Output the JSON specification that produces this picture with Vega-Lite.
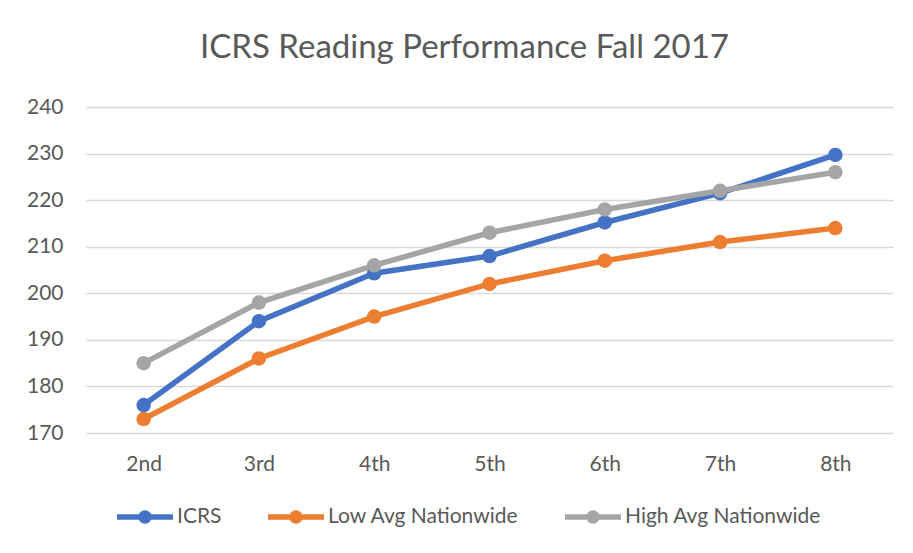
{
  "$schema": "https://vega.github.io/schema/vega-lite/v6.json",
  "width": 807,
  "height": 326,
  "autosize": {"type": "none"},
  "padding": {"left": 86, "top": 107, "right": 20, "bottom": 120},
  "background": "white",
  "title": {
    "text": "ICRS Reading Performance Fall 2017",
    "font": "Lato",
    "fontSize": 33,
    "fontWeight": "normal",
    "color": "#595959",
    "anchor": "middle",
    "frame": "group",
    "dx": -25,
    "offset": 5,
    "baseline": "alphabetic"
  },
  "data": {
    "values": [
      {"grade": "2nd", "series": "ICRS", "score": 176},
      {"grade": "3rd", "series": "ICRS", "score": 194},
      {"grade": "4th", "series": "ICRS", "score": 204.3},
      {"grade": "5th", "series": "ICRS", "score": 208},
      {"grade": "6th", "series": "ICRS", "score": 215.2},
      {"grade": "7th", "series": "ICRS", "score": 221.5},
      {"grade": "8th", "series": "ICRS", "score": 229.7},
      {"grade": "2nd", "series": "Low Avg Nationwide", "score": 173},
      {"grade": "3rd", "series": "Low Avg Nationwide", "score": 186},
      {"grade": "4th", "series": "Low Avg Nationwide", "score": 195},
      {"grade": "5th", "series": "Low Avg Nationwide", "score": 202},
      {"grade": "6th", "series": "Low Avg Nationwide", "score": 207},
      {"grade": "7th", "series": "Low Avg Nationwide", "score": 211},
      {"grade": "8th", "series": "Low Avg Nationwide", "score": 214},
      {"grade": "2nd", "series": "High Avg Nationwide", "score": 185},
      {"grade": "3rd", "series": "High Avg Nationwide", "score": 198},
      {"grade": "4th", "series": "High Avg Nationwide", "score": 206},
      {"grade": "5th", "series": "High Avg Nationwide", "score": 213},
      {"grade": "6th", "series": "High Avg Nationwide", "score": 218},
      {"grade": "7th", "series": "High Avg Nationwide", "score": 222},
      {"grade": "8th", "series": "High Avg Nationwide", "score": 226}
    ]
  },
  "mark": {
    "type": "line",
    "strokeWidth": 5.5,
    "point": {"filled": true, "size": 210, "opacity": 1}
  },
  "encoding": {
    "x": {
      "field": "grade",
      "type": "nominal",
      "sort": ["2nd", "3rd", "4th", "5th", "6th", "7th", "8th"],
      "scale": {"padding": 0.5},
      "axis": {
        "title": null,
        "labelAngle": 0,
        "labelFont": "Lato",
        "labelFontSize": 21,
        "labelColor": "#595959",
        "labelPadding": 20,
        "ticks": false,
        "domain": false,
        "grid": false
      }
    },
    "y": {
      "field": "score",
      "type": "quantitative",
      "scale": {"domain": [170, 240], "nice": false, "zero": false},
      "axis": {
        "title": null,
        "values": [170, 180, 190, 200, 210, 220, 230, 240],
        "labelFont": "Lato",
        "labelFontSize": 21,
        "labelColor": "#595959",
        "labelPadding": 23,
        "ticks": false,
        "domain": false,
        "grid": true,
        "gridColor": "#D9D9D9",
        "gridWidth": 1.3
      }
    },
    "color": {
      "field": "series",
      "type": "nominal",
      "scale": {
        "domain": ["ICRS", "Low Avg Nationwide", "High Avg Nationwide"],
        "range": ["#4472C4", "#ED7D31", "#A5A5A5"]
      },
      "legend": {
        "title": null,
        "orient": "none",
        "direction": "horizontal",
        "legendX": 31,
        "legendY": 382,
        "padding": 0,
        "labelFont": "Lato",
        "labelFontSize": 21,
        "labelColor": "#595959",
        "labelOffset": 4,
        "labelLimit": 400,
        "columnPadding": 46,
        "symbolType": "M-1,-0.1H1V0.1H-1Z M-0.24,0A0.24,0.24 0 1,1 0.24,0A0.24,0.24 0 1,1 -0.24,0Z",
        "symbolSize": 3136,
        "symbolStrokeWidth": 0,
        "encode": {
          "symbols": {
            "update": {
              "fill": {"scale": "color", "field": "value"},
              "strokeWidth": {"value": 0},
              "opacity": {"value": 1}
            }
          }
        }
      }
    }
  },
  "config": {
    "view": {"stroke": null}
  }
}
